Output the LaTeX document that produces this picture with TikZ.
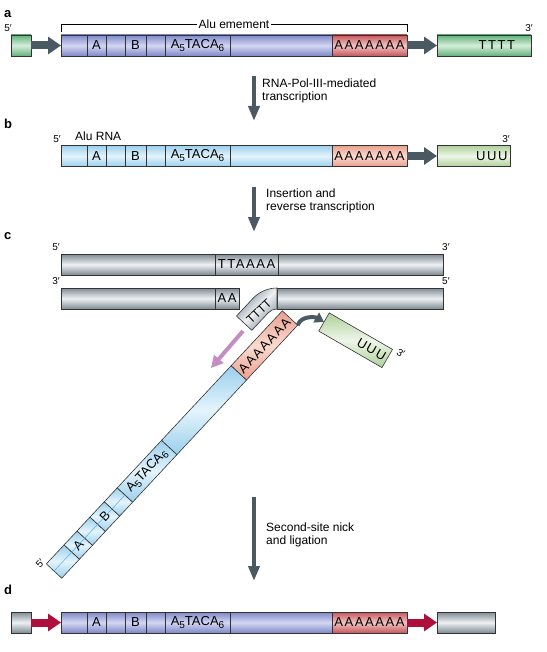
\documentclass[tikz,border=0pt]{standalone}
\usepackage{fontspec}
\setmainfont{Liberation Sans}
\newfontfamily\seqfont[LetterSpace=12]{Liberation Sans}
\usetikzlibrary{arrows.meta}
\definecolor{blueAd}{HTML}{7E88C8}
\definecolor{blueAl}{HTML}{D3D6F2}
\definecolor{redAd}{HTML}{C4565A}
\definecolor{redAl}{HTML}{F2C4C4}
\definecolor{greenAd}{HTML}{62B07A}
\definecolor{greenAl}{HTML}{D6EEDA}
\definecolor{blueBd}{HTML}{9ACFEC}
\definecolor{blueBl}{HTML}{E4F4FC}
\definecolor{redBd}{HTML}{E8A08E}
\definecolor{redBl}{HTML}{FADAD0}
\definecolor{greenBd}{HTML}{AED09A}
\definecolor{greenBl}{HTML}{EEF6E8}
\definecolor{grayd}{HTML}{7F8A93}
\definecolor{grayl}{HTML}{EEF1F3}
\definecolor{slate}{HTML}{4B5963}
\definecolor{pinkA}{HTML}{C48EC2}
\definecolor{crimson}{HTML}{AE0F3D}
\definecolor{rnaline}{HTML}{5AAEDD}
\newcommand{\subnum}[1]{\raisebox{-3pt}{\fontsize{10}{10}\selectfont #1}}
\newcommand{\Afive}{A\subnum{5}TACA\subnum{6}}

\begin{document}
\begin{tikzpicture}[x=1pt,y=1pt,
    seg/.style={draw=black!80, line width=0.6pt, minimum height=21pt, inner sep=0pt, outer sep=0pt, anchor=west, font=\fontsize{13}{13}\selectfont},
    blueA/.style={seg, top color=blueAd, bottom color=blueAd, middle color=blueAl},
    redA/.style={seg, top color=redAd, bottom color=redAd, middle color=redAl},
    greenA/.style={seg, top color=greenAd, bottom color=greenAd, middle color=greenAl},
    blueB/.style={seg, top color=blueBd, bottom color=blueBd, middle color=blueBl},
    redB/.style={seg, top color=redBd, bottom color=redBd, middle color=redBl},
    greenB/.style={seg, top color=greenBd, bottom color=greenBd, middle color=greenBl},
    grayseg/.style={seg, top color=grayd, bottom color=grayd, middle color=grayl},
    blockarrow/.style={line width=8pt, -{Triangle[length=13pt,width=17pt]}},
    downarrow/.style={slate, line width=4pt, -{Triangle[length=15pt,width=11pt]}},
    note/.style={anchor=north west, align=left, inner sep=0pt, font=\fontsize{12}{13}\selectfont},
    endlbl/.style={inner sep=0pt, font=\fontsize{10}{10}\selectfont},
    panel/.style={anchor=base west, inner sep=0pt, font=\fontsize{13}{13}\bfseries\selectfont}]
  \useasboundingbox (0,0) rectangle (546,-652);

  % a
  \node[panel] (la) at (4,-18) {a};
  \node[greenA, minimum width=20pt] (a0) at (11,-45.5) {};
  \foreach \n/\l/\w/\t in {1/61/26pt/{},2/87/19pt/A,3/106/19pt/{},4/125/21pt/B,5/146/19pt/{},6/165/65pt/\Afive,7/230/102pt/{}}
    \node[blueA, minimum width=\w] (a\n) at (\l,-45.5) {\t};
  \node[redA, minimum width=75pt] (a8) at (332,-45.5) {\seqfont AAAAAAA};
  \node[greenA, minimum width=94pt, text width=62pt, align=right] (a9) at (437,-45.5) {\seqfont TTTT};
  \draw[blockarrow, slate] (a0) -- (a1);
  \draw[blockarrow, slate] (a8) -- (a9);
  \node[endlbl, anchor=south east] (a5p) at ([xshift=1pt,yshift=3pt]a0.north west) {5′};
  \node[endlbl, anchor=south east] (a3p) at ([xshift=2pt,yshift=3pt]a9.north east) {3′};
  \draw[line width=0.6pt] ([yshift=3pt]a1.north west) -- ([yshift=11pt]a1.north west)
    -- node[fill=white, inner sep=2pt, font=\fontsize{12}{13}\selectfont] (alu) {Alu emement} ([yshift=11pt]a8.north east)
    -- ([yshift=3pt]a8.north east);
  \coordinate (ar1s) at (254,-76);
  \coordinate (ar1e) at (254,-121);
  \draw[downarrow] (ar1s) -- (ar1e);
  \node[note] (t1) at (262,-79) {RNA-Pol-III-mediated\\transcription};

  % b
  \node[panel] (lb) at (4,-129) {b};
  \foreach \n/\l/\w/\t in {1/61/26pt/{},2/87/19pt/A,3/106/19pt/{},4/125/21pt/B,5/146/19pt/{},6/165/65pt/\Afive,7/230/102pt/{}}
    \node[blueB, minimum width=\w] (b\n) at (\l,-156) {\t};
  \node[redB, minimum width=75pt] (b8) at (332,-156) {\seqfont AAAAAAA};
  \node[greenB, minimum width=73pt, text width=68pt, align=right] (b9) at (437,-156) {\seqfont UUU};
  \draw[blockarrow, slate] (b8) -- (b9);
  \node[endlbl, anchor=south east] (b5p) at ([xshift=0pt,yshift=3pt]b1.north west) {5′};
  \node[endlbl, anchor=south east] (b3p) at ([xshift=0pt,yshift=3pt]b9.north east) {3′};
  \node[anchor=base west, inner sep=0pt, font=\fontsize{12}{13}\selectfont] (aluRNA) at (75,-141) {Alu RNA};
  \coordinate (ar2s) at (254,-187);
  \coordinate (ar2e) at (254,-232);
  \draw[downarrow] (ar2s) -- (ar2e);
  \node[note] (t2) at (266,-189) {Insertion and\\reverse transcription};

  % c
  \node[panel] (lc) at (4,-239) {c};
  \node[grayseg, minimum width=154pt] (c1) at (61,-264.5) {};
  \node[grayseg, minimum width=63pt] (c2) at (215,-264.5) {\seqfont TTAAAA};
  \node[grayseg, minimum width=165pt] (c3) at (278,-264.5) {};
  \node[grayseg, minimum width=154pt] (c4) at (61,-298.5) {};
  \node[grayseg, minimum width=24pt] (c5) at (215,-298.5) {\seqfont AA};
  \node[grayseg, minimum width=166pt] (c6) at (277,-298.5) {};
  \node[endlbl, anchor=south east] (c5a) at ([xshift=-1pt,yshift=3pt]c1.north west) {5′};
  \node[endlbl, anchor=south west] (c3a) at ([xshift=-1pt,yshift=3pt]c3.north east) {3′};
  \node[endlbl, anchor=south east] (c3b) at ([xshift=-1pt,yshift=3pt]c4.north west) {3′};
  \node[endlbl, anchor=south west] (c5b) at ([xshift=-1pt,yshift=3pt]c6.north east) {5′};
  \draw[line width=0.6pt, draw=black!80, top color=grayd, bottom color=grayd, middle color=grayl, shading angle=45]
    (c6.north west) arc[start angle=90, end angle=137, radius=33] -- ++(227:24) -- ++(-43:21)
    -- ++(47:24) arc[start angle=137, end angle=90, radius=12] -- cycle;
  \node[rotate=43, inner sep=0pt, font=\fontsize{12}{12}\selectfont] (tttt) at (259,-311) {TTTT};
  \begin{scope}[shift={(290,-318)}, rotate=47, transform shape]
    \foreach \n/\l/\w/\t in {1/-346/26pt/{},2/-320/19pt/A,3/-301/19pt/{},4/-282/21pt/B,5/-261/19pt/{},6/-242/65pt/\Afive,7/-177/102pt/{}}
      \node[blueB, minimum width=\w] (r\n) at (\l,0) {\t};
    \node[redB, minimum width=75pt] (r8) at (-75,0) {\seqfont AAAAAAA};
    \draw[rnaline, line width=0.5pt] (r1.west) -- (r6.west);
    \node[endlbl, anchor=south east] (r5p) at ([yshift=1pt]r1.north west) {5′};
  \end{scope}
  \begin{scope}[shift={(324,-322)}, rotate=-30, transform shape]
    \node[greenB, minimum width=73pt, text width=68pt, align=right] (cU) at (0,0) {\seqfont UUU};
    \node[endlbl, anchor=west] (cU3) at ([xshift=5pt,yshift=1pt]cU.north east) {3′};
  \end{scope}
  \draw[slate, line width=4pt, -{Triangle[length=9pt,width=11pt]}] (r8.south east) to[out=70, in=150] (cU.west);
  \coordinate (pk1) at (243,-331);
  \coordinate (pk2) at (211,-368);
  \draw[pinkA, line width=4pt, -{Triangle[length=12pt,width=12pt]}] (pk1) -- (pk2);
  \coordinate (ar3s) at (254,-497);
  \coordinate (ar3e) at (254,-581);
  \draw[downarrow] (ar3s) -- (ar3e);
  \node[note] (t3) at (266,-523) {Second-site nick\\and ligation};

  % d
  \node[panel] (ld) at (4,-594) {d};
  \node[grayseg, minimum width=20pt] (d0) at (11,-622.5) {};
  \foreach \n/\l/\w/\t in {1/61/26pt/{},2/87/19pt/A,3/106/19pt/{},4/125/21pt/B,5/146/19pt/{},6/165/65pt/\Afive,7/230/102pt/{}}
    \node[blueA, minimum width=\w] (d\n) at (\l,-622.5) {\t};
  \node[redA, minimum width=75pt] (d8) at (332,-622.5) {\seqfont AAAAAAA};
  \node[grayseg, minimum width=58pt] (d9) at (437,-622.5) {};
  \draw[blockarrow, crimson] (d0) -- (d1);
  \draw[blockarrow, crimson] (d8) -- (d9);
\end{tikzpicture}
\end{document}
